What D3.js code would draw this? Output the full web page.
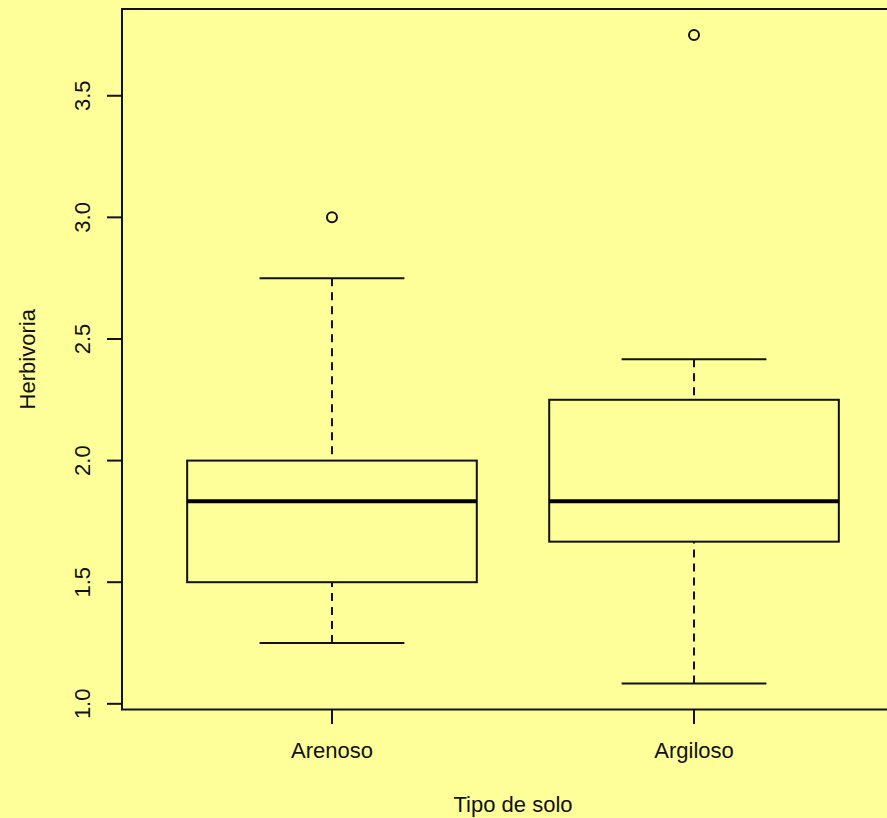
<!DOCTYPE html>
<html>
<head>
<meta charset="utf-8">
<script src="https://cdn.jsdelivr.net/npm/d3@7"></script>
<style>
	body { margin: 0; background: #ffff99; }
	svg { display: block; font-family: "Liberation Sans", Arial, sans-serif; }
</style>
</head>
<body>
<div class="chart"></div>
<script>
const categories = ["Arenoso", "Argiloso"];
const lowerWhisker = [1.25, 1.0833];
const q1 = [1.5, 1.6667];
const medians = [1.8333, 1.8333];
const q3 = [2.0, 2.25];
const upperWhisker = [2.75, 2.4167];
const outliers = [[3.0], [3.75]];
const yTicks = [1.0, 1.5, 2.0, 2.5, 3.0, 3.5];

const width = 887, height = 818;
const bg = "#ffff99";
const ink = "#111";
const fontSize = 22;

// R-style range: data extent padded by 4%
const allVals = lowerWhisker.concat(upperWhisker, outliers.flat());
const lo = d3.min(allVals), hi = d3.max(allVals);
const pad = (hi - lo) * 0.04;

const y = d3.scaleLinear().domain([lo - pad, hi + pad]).range([709.5, 9]);
const x = d3.scaleLinear().domain([0.42, categories.length + 0.58]).range([122, 904]);

const svg = d3.select("div.chart").append("svg")
	.attr("width", width)
	.attr("height", height);

svg.append("rect")
	.attr("width", width).attr("height", height)
	.attr("fill", bg);

// plot frame
svg.append("rect")
	.attr("x", x.range()[0]).attr("y", y.range()[1])
	.attr("width", x.range()[1] - x.range()[0])
	.attr("height", y.range()[0] - y.range()[1])
	.attr("fill", "none")
	.attr("stroke", ink)
	.attr("stroke-width", 2);

// y axis ticks + rotated labels
const yAxis = svg.append("g").attr("class", "y-axis");
yAxis.selectAll("line").data(yTicks).join("line")
	.attr("x1", 107).attr("x2", 122)
	.attr("y1", d => y(d)).attr("y2", d => y(d))
	.attr("stroke", ink).attr("stroke-width", 2);
yAxis.selectAll("text").data(yTicks).join("text")
	.attr("transform", d => "translate(90," + y(d) + ") rotate(-90)")
	.attr("text-anchor", "middle")
	.attr("font-size", fontSize)
	.attr("fill", ink)
	.text(d => d.toFixed(1));

// x axis ticks + labels
const xAxis = svg.append("g").attr("class", "x-axis");
xAxis.selectAll("line").data(categories).join("line")
	.attr("x1", (d, i) => x(i + 1)).attr("x2", (d, i) => x(i + 1))
	.attr("y1", 709).attr("y2", 724)
	.attr("stroke", ink).attr("stroke-width", 2);
xAxis.selectAll("text").data(categories).join("text")
	.attr("x", (d, i) => x(i + 1))
	.attr("y", 758)
	.attr("text-anchor", "middle")
	.attr("font-size", fontSize)
	.attr("fill", ink)
	.text(d => d);

// axis titles, centred on the plot region
svg.append("text")
	.attr("x", d3.mean(x.range())).attr("y", 812)
	.attr("text-anchor", "middle")
	.attr("font-size", fontSize)
	.attr("fill", ink)
	.text("Tipo de solo");
svg.append("text")
	.attr("transform", "translate(35," + d3.mean(y.range()) + ") rotate(-90)")
	.attr("text-anchor", "middle")
	.attr("font-size", fontSize)
	.attr("fill", ink)
	.text("Herbivoria");

// boxes
const boxHalf = 0.4, capHalf = 0.2;
const boxes = svg.append("g").attr("class", "boxes")
	.selectAll("g").data(categories).join("g");

// whiskers (dashed)
boxes.append("line")
	.attr("x1", (d, i) => x(i + 1)).attr("x2", (d, i) => x(i + 1))
	.attr("y1", (d, i) => y(upperWhisker[i])).attr("y2", (d, i) => y(q3[i]))
	.attr("stroke", ink).attr("stroke-width", 2).attr("stroke-dasharray", "8,6");
boxes.append("line")
	.attr("x1", (d, i) => x(i + 1)).attr("x2", (d, i) => x(i + 1))
	.attr("y1", (d, i) => y(lowerWhisker[i])).attr("y2", (d, i) => y(q1[i]))
	.attr("stroke", ink).attr("stroke-width", 2).attr("stroke-dasharray", "8,6");

// caps
[upperWhisker, lowerWhisker].forEach(arr => {
	boxes.append("line")
		.attr("x1", (d, i) => x(i + 1 - capHalf)).attr("x2", (d, i) => x(i + 1 + capHalf))
		.attr("y1", (d, i) => y(arr[i])).attr("y2", (d, i) => y(arr[i]))
		.attr("stroke", ink).attr("stroke-width", 2);
});

boxes.append("rect")
	.attr("x", (d, i) => x(i + 1 - boxHalf))
	.attr("width", (d, i) => x(i + 1 + boxHalf) - x(i + 1 - boxHalf))
	.attr("y", (d, i) => y(q3[i]))
	.attr("height", (d, i) => y(q1[i]) - y(q3[i]))
	.attr("fill", "none")
	.attr("stroke", ink).attr("stroke-width", 2);

boxes.append("line")
	.attr("x1", (d, i) => x(i + 1 - boxHalf)).attr("x2", (d, i) => x(i + 1 + boxHalf))
	.attr("y1", (d, i) => y(medians[i])).attr("y2", (d, i) => y(medians[i]))
	.attr("stroke", "#000").attr("stroke-width", 4);

// outliers
boxes.each(function(d, i) {
	d3.select(this).selectAll("circle").data(outliers[i]).join("circle")
		.attr("cx", x(i + 1))
		.attr("cy", v => y(v))
		.attr("r", 5)
		.attr("fill", "none")
		.attr("stroke", ink).attr("stroke-width", 2);
});
</script>
</body>
</html>
